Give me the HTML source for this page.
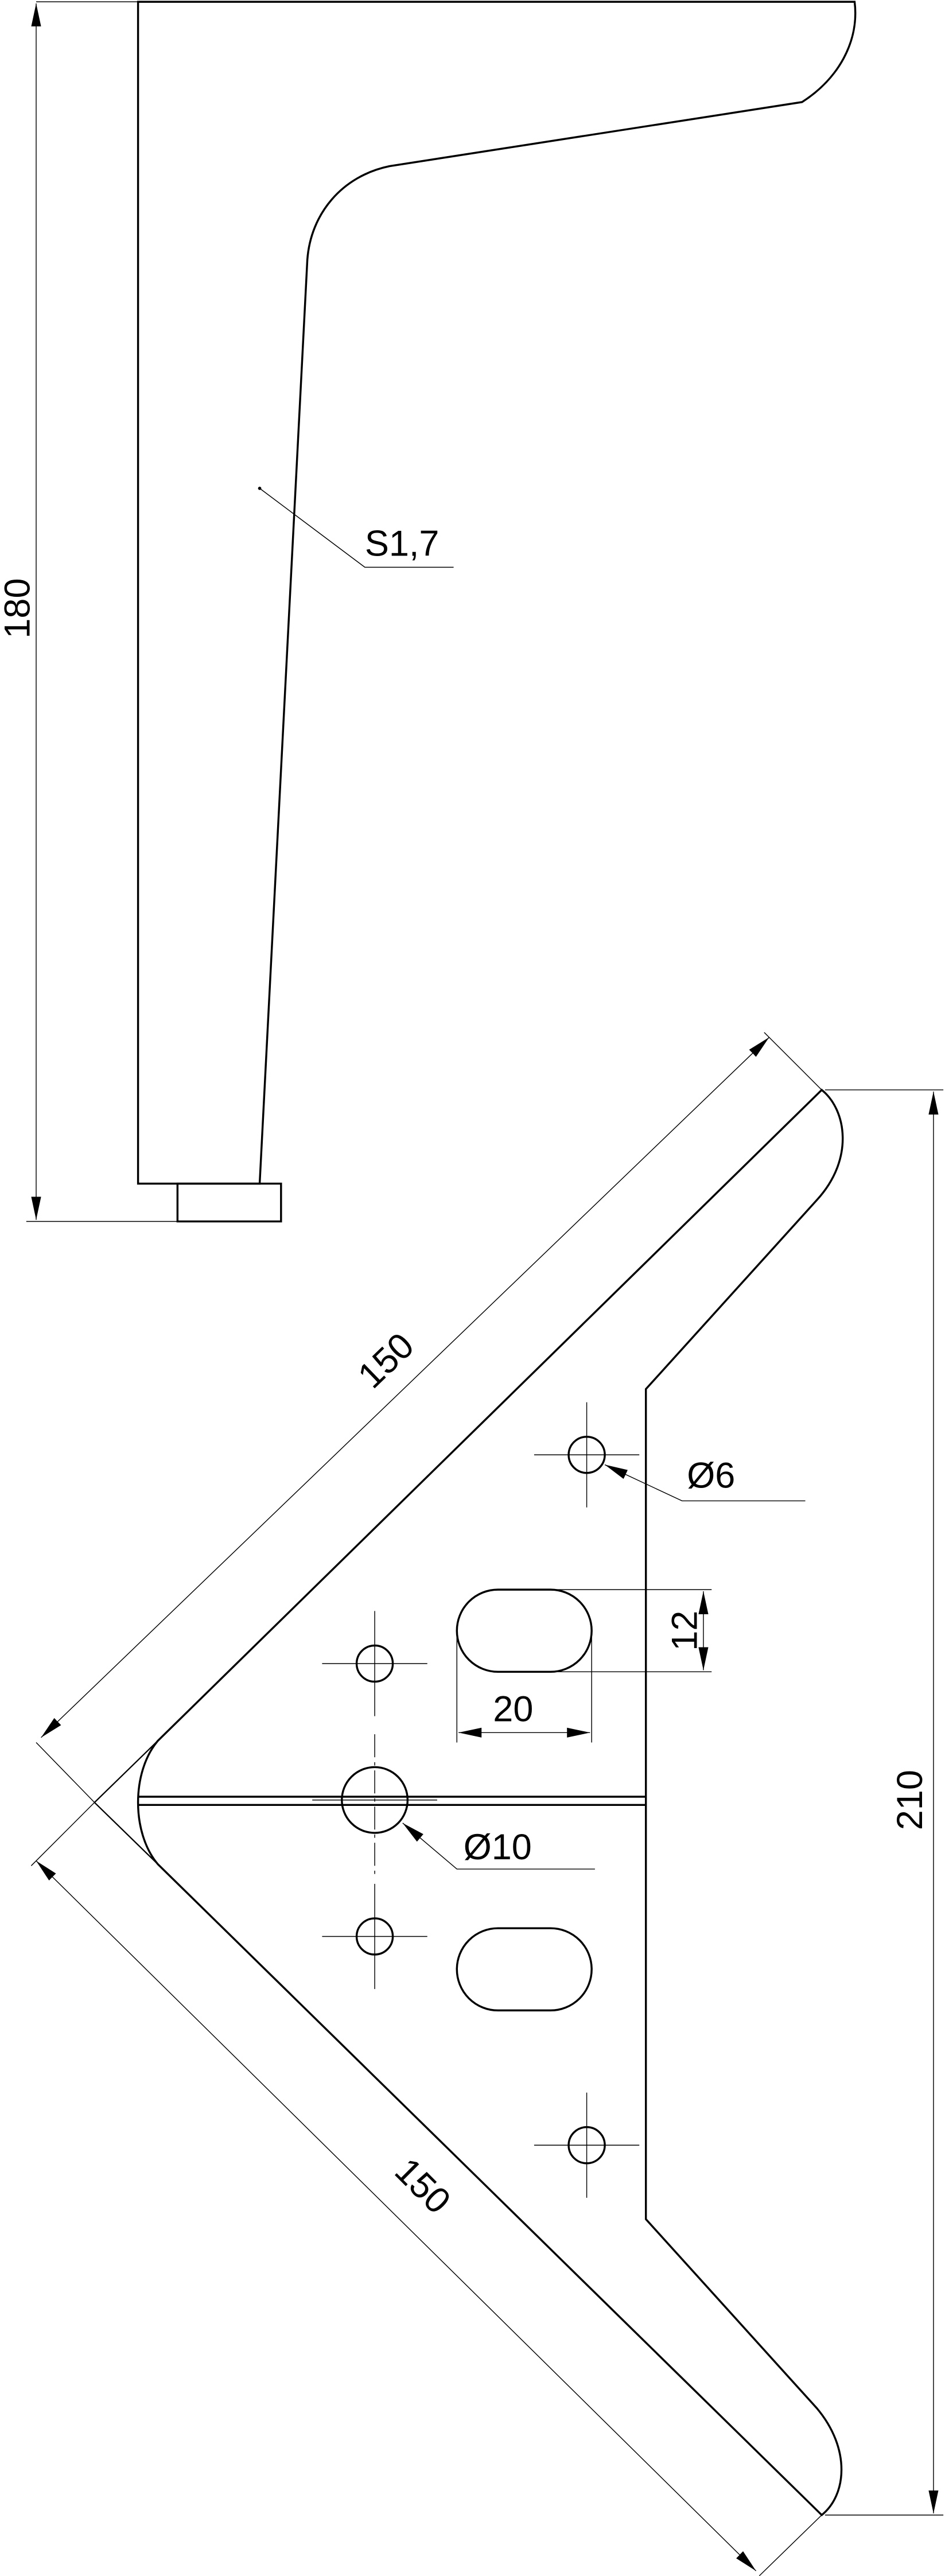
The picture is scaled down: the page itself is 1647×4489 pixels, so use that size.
<!DOCTYPE html>
<html><head><meta charset="utf-8"><style>
html,body{margin:0;padding:0;background:#fff;}
svg{display:block;}
text{font-family:"Liberation Sans",sans-serif;font-size:22px;fill:#000;}
</style></head><body>
<svg width="1647" height="4489" viewBox="0 0 575 1567" xmlns="http://www.w3.org/2000/svg">
<defs>
<marker id="a" viewBox="0 0 14 6" refX="14" refY="3" markerWidth="14" markerHeight="6" markerUnits="userSpaceOnUse" orient="auto-start-reverse"><path d="M0,0 L14,3 L0,6 z" fill="#000"/></marker>
</defs>
<g fill="none" stroke="#000" stroke-width="1.2">
<path d="M84,720 L84,1 L520,1 C523,25 510,48 488,62 L237,101 C208,107 189,130 187,158 L158,720 Z"/>
<rect x="108" y="720" width="63" height="23"/>
</g>
<g fill="none" stroke="#000" stroke-width="0.5">
<line x1="22" y1="1" x2="84" y2="1"/>
<line x1="16" y1="743" x2="108" y2="743"/>
<line x1="22" y1="2" x2="22" y2="742" marker-start="url(#a)" marker-end="url(#a)"/>
<polyline points="158,297 222,345 276,345"/>
</g>
<circle cx="158" cy="297" r="1" fill="#000"/>
<text x="222" y="338">S1,7</text>
<text transform="translate(18,370) rotate(-90)" text-anchor="middle">180</text>

<!-- plate -->
<g fill="none" stroke="#000" stroke-width="1.2">
<path d="M500,663 C515,675 520,705 497,730 L393,845 L393,1350 L497,1465 C518,1490 515,1518 500,1530 L96,1134 C80,1115 80,1078 96,1059 Z"/>
<line x1="84" y1="1093" x2="393" y2="1093"/>
<line x1="84" y1="1098" x2="393" y2="1098"/>
<circle cx="228" cy="1095" r="20"/>
<circle cx="228" cy="1012" r="11"/>
<circle cx="228" cy="1178" r="11"/>
<circle cx="357" cy="885" r="11"/>
<circle cx="357" cy="1305" r="11"/>
<rect x="278" y="967" width="82" height="50" rx="25"/>
<rect x="278" y="1173" width="82" height="50" rx="25"/>
</g>
<g fill="none" stroke="#000" stroke-width="0.8">
<polyline points="96,1059 57.5,1096.5 96,1134"/>
</g>
<g fill="none" stroke="#000" stroke-width="0.5">
<line x1="228" y1="1055" x2="228" y2="1140" stroke-dasharray="14,3,2,3"/>
<line x1="190" y1="1095" x2="266" y2="1095"/>
<line x1="196" y1="1012" x2="260" y2="1012"/><line x1="228" y1="980" x2="228" y2="1044"/>
<line x1="196" y1="1178" x2="260" y2="1178"/><line x1="228" y1="1146" x2="228" y2="1210"/>
<line x1="325" y1="885" x2="389" y2="885"/><line x1="357" y1="853" x2="357" y2="917"/>
<line x1="325" y1="1305" x2="389" y2="1305"/><line x1="357" y1="1273" x2="357" y2="1337"/>
<!-- 12 -->
<line x1="320" y1="967" x2="433" y2="967"/>
<line x1="320" y1="1017" x2="433" y2="1017"/>
<line x1="428" y1="968" x2="428" y2="1016" marker-start="url(#a)" marker-end="url(#a)"/>
<!-- 20 -->
<line x1="278" y1="995" x2="278" y2="1060"/>
<line x1="360" y1="995" x2="360" y2="1060"/>
<line x1="279" y1="1054" x2="359" y2="1054" marker-start="url(#a)" marker-end="url(#a)"/>
<!-- leaders -->
<polyline points="490,913 415,913 368,891" marker-end="url(#a)"/>
<polyline points="362,1137 278,1137 245,1109" marker-end="url(#a)"/>
<!-- 210 -->
<line x1="502" y1="663" x2="574" y2="663"/>
<line x1="502" y1="1530" x2="574" y2="1530"/>
<line x1="568" y1="664" x2="568" y2="1529" marker-start="url(#a)" marker-end="url(#a)"/>
<!-- 150 top -->
<line x1="500" y1="663" x2="465" y2="628"/>
<line x1="57.5" y1="1096.5" x2="22" y2="1060"/>
<line x1="25" y1="1057" x2="468" y2="631" marker-start="url(#a)" marker-end="url(#a)"/>
<!-- 150 bottom -->
<line x1="57.5" y1="1096.5" x2="19" y2="1135"/>
<line x1="500" y1="1530" x2="462" y2="1567"/>
<line x1="22" y1="1132" x2="460" y2="1564" marker-start="url(#a)" marker-end="url(#a)"/>
</g>
<text x="418" y="905">Ø6</text>
<text x="282" y="1131">Ø10</text>
<text x="300" y="1047">20</text>
<text transform="translate(424,992) rotate(-90)" text-anchor="middle">12</text>
<text transform="translate(561,1095) rotate(-90)" text-anchor="middle">210</text>
<text transform="translate(240,833) rotate(-44)" text-anchor="middle">150</text>
<text transform="translate(252,1335) rotate(45)" text-anchor="middle">150</text>
</svg>
</body></html>
